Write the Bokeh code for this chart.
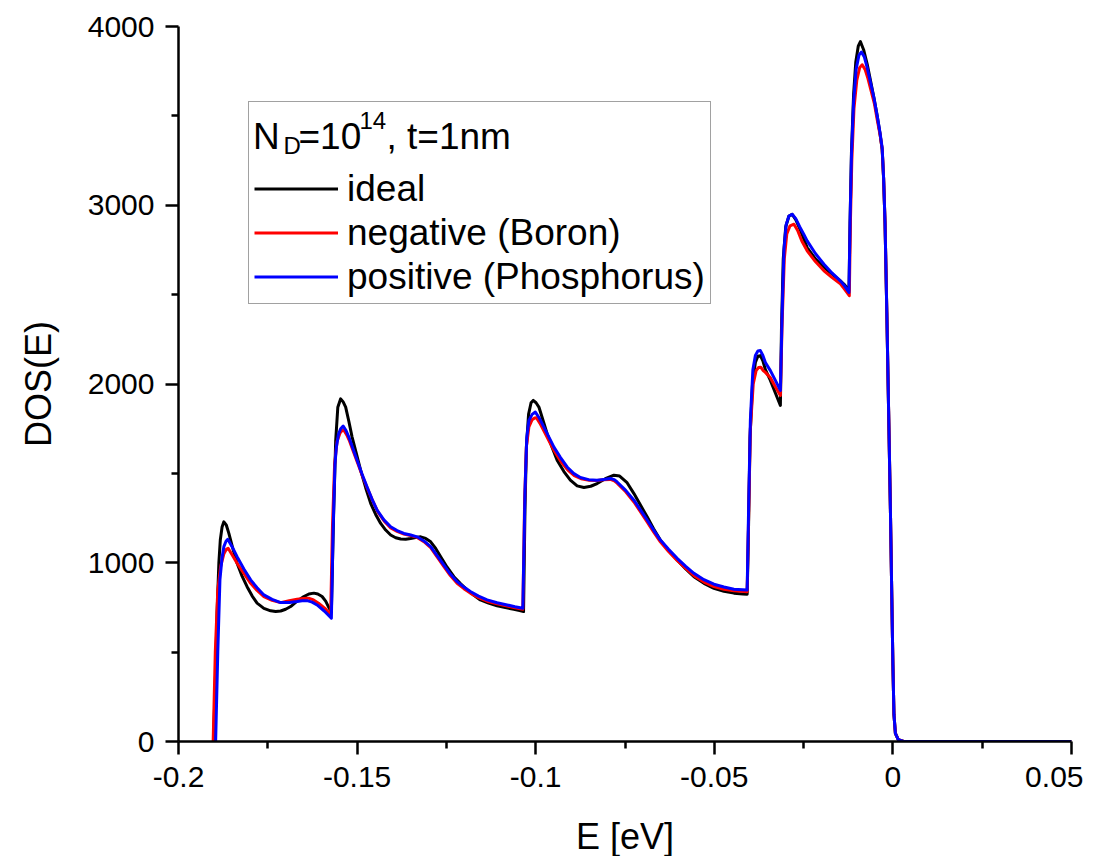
from bokeh.plotting import figure
from bokeh.models import Range1d, FixedTicker, Legend, LegendItem, Label
from bokeh.embed import file_html
from bokeh.resources import INLINE

# ---------------- data ----------------
x_ticks = [-0.2, -0.15, -0.1, -0.05, 0.0, 0.05]
x_tick_labels = ["-0.2", "-0.15", "-0.1", "-0.05", "0", "0.05"]
x_minor = [-0.175, -0.125, -0.075, -0.025, 0.025]
y_ticks = [0, 1000, 2000, 3000, 4000]
y_minor = [500, 1500, 2500, 3500]

series_names = ["ideal", "negative (Boron)", "positive (Phosphorus)"]

E_ideal = [
    -0.1902, -0.1896, -0.1892, -0.1887, -0.1883, -0.1878, -0.1873, -0.1866, -0.1859, -0.1848,
    -0.1836, -0.1822, -0.1808, -0.1794, -0.1780, -0.1761, -0.1742, -0.1728, -0.1714, -0.1700,
    -0.1686, -0.1668, -0.1649, -0.1635, -0.1621, -0.1610, -0.1598, -0.1588, -0.1578, -0.1572,
    -0.1566, -0.1560, -0.1554, -0.1546, -0.1539, -0.1532, -0.1523, -0.1514, -0.1502, -0.1490,
    -0.1476, -0.1462, -0.1448, -0.1434, -0.1420, -0.1406, -0.1392, -0.1378, -0.1364, -0.1350,
    -0.1336, -0.1322, -0.1308, -0.1294, -0.1280, -0.1266, -0.1248, -0.1229, -0.1210, -0.1192,
    -0.1173, -0.1155, -0.1132, -0.1108, -0.1085, -0.1061, -0.1045, -0.1034,
    -0.1030, -0.1026, -0.1020, -0.1013, -0.1007, -0.0999, -0.0991, -0.0980, -0.0968, -0.0954,
    -0.0940, -0.0921, -0.0903, -0.0884, -0.0865, -0.0846, -0.0828, -0.0805, -0.0781, -0.0765,
    -0.0745, -0.0725, -0.0706, -0.0688, -0.0670, -0.0651, -0.0628, -0.0604, -0.0580, -0.0557,
    -0.0529, -0.0501, -0.0473, -0.0445, -0.0420, -0.0408,
    -0.0405, -0.0400, -0.0393, -0.0385, -0.0378, -0.0371, -0.0364, -0.0357, -0.0343, -0.0329,
    -0.0315, -0.0312, -0.0307, -0.0300, -0.0291, -0.0282, -0.0272, -0.0261, -0.0250, -0.0240,
    -0.0217, -0.0193, -0.0170, -0.0147, -0.0135, -0.0123,
    -0.0120, -0.0116, -0.0110, -0.0104, -0.0097, -0.0091, -0.0082, -0.0072, -0.0062, -0.0053,
    -0.0044, -0.0036, -0.0030, -0.0026, -0.0022, -0.0017, -0.0012, -0.0007, -0.0003, 0.0000,
    0.0003, 0.0007, 0.0015, 0.0030, 0.0500,
]
DOS_ideal = [
    0, 400, 718, 1000, 1127, 1200, 1229, 1210, 1164, 1080,
    997, 925, 866, 815, 774, 745, 731, 727, 730, 740,
    755, 785, 811, 825, 830, 825, 811, 785, 745, 725,
    1250, 1680, 1870, 1917, 1900, 1871, 1790, 1703, 1610, 1517,
    1420, 1332, 1270, 1220, 1183, 1155, 1140, 1133, 1132, 1136,
    1141, 1145, 1136, 1117, 1080, 1034, 975, 922, 882, 848,
    818, 792, 775, 759, 749, 740, 732, 727,
    1300, 1650, 1830, 1895, 1908, 1895, 1871, 1800, 1722, 1645,
    1573, 1510, 1462, 1430, 1421, 1428, 1443, 1470, 1490, 1485,
    1450, 1387, 1320, 1257, 1190, 1127, 1068, 1015, 965, 922,
    885, 857, 840, 830, 825, 824,
    1100, 1700, 2000, 2120, 2155, 2159, 2130, 2080, 2020, 1950,
    1880, 2300, 2700, 2880, 2940, 2949, 2920, 2870, 2815, 2763,
    2700, 2652, 2615, 2577, 2555, 2522,
    2900, 3300, 3620, 3800, 3890, 3916, 3870, 3790, 3690, 3600,
    3500, 3400, 3310, 3150, 2900, 2400, 1850, 1300, 800, 430,
    150, 45, 10, 0, 0,
]

E_boron = [
    -0.1903, -0.1897, -0.1890, -0.1882, -0.1873, -0.1866, -0.1861, -0.1850, -0.1836, -0.1817,
    -0.1798, -0.1780, -0.1761, -0.1738, -0.1714, -0.1690, -0.1668, -0.1650, -0.1636, -0.1622,
    -0.1608, -0.1590, -0.1574, -0.1569, -0.1563, -0.1556, -0.1548, -0.1542, -0.1537, -0.1529,
    -0.1521, -0.1510, -0.1498, -0.1484, -0.1470, -0.1456, -0.1442, -0.1424, -0.1406, -0.1388,
    -0.1369, -0.1350, -0.1332, -0.1313, -0.1294, -0.1276, -0.1257, -0.1239, -0.1220, -0.1201,
    -0.1183, -0.1160, -0.1136, -0.1108, -0.1080, -0.1058, -0.1036,
    -0.1031, -0.1026, -0.1019, -0.1010, -0.1003, -0.0998, -0.0988, -0.0975, -0.0961, -0.0947,
    -0.0929, -0.0910, -0.0892, -0.0873, -0.0850, -0.0828, -0.0810, -0.0791, -0.0780, -0.0772,
    -0.0748, -0.0725, -0.0706, -0.0688, -0.0670, -0.0651, -0.0628, -0.0604, -0.0580, -0.0557,
    -0.0529, -0.0501, -0.0473, -0.0445, -0.0408,
    -0.0404, -0.0399, -0.0391, -0.0383, -0.0376, -0.0370, -0.0363, -0.0357, -0.0343, -0.0329,
    -0.0315, -0.0310, -0.0304, -0.0297, -0.0288, -0.0277, -0.0267, -0.0255, -0.0240, -0.0217,
    -0.0193, -0.0170, -0.0147, -0.0135, -0.0122,
    -0.0119, -0.0115, -0.0109, -0.0101, -0.0093, -0.0086, -0.0078, -0.0070, -0.0061, -0.0052,
    -0.0044, -0.0036, -0.0030, -0.0026, -0.0022, -0.0017, -0.0012, -0.0007, -0.0003, 0.0000,
    0.0003, 0.0007, 0.0015, 0.0030, 0.0500,
]
DOS_boron = [
    0, 500, 850, 980, 1050, 1075, 1081, 1045, 997, 940,
    885, 845, 811, 790, 777, 788, 796, 800, 802, 792,
    774, 745, 709, 1200, 1550, 1680, 1725, 1740, 1741, 1715,
    1680, 1620, 1555, 1480, 1410, 1345, 1285, 1232, 1195, 1175,
    1160, 1152, 1142, 1118, 1085, 1032, 978, 928, 885, 855,
    830, 805, 785, 770, 758, 748, 740,
    1350, 1650, 1760, 1800, 1810, 1811, 1780, 1730, 1675, 1622,
    1565, 1518, 1487, 1470, 1462, 1460, 1464, 1466, 1458, 1445,
    1397, 1340, 1283, 1228, 1172, 1117, 1063, 1013, 968, 928,
    892, 867, 852, 843, 838,
    1250, 1750, 2000, 2075, 2092, 2094, 2075, 2065, 2035, 1985,
    1936, 2350, 2700, 2840, 2885, 2894, 2860, 2800, 2745, 2685,
    2633, 2595, 2560, 2530, 2494,
    2900, 3250, 3540, 3700, 3770, 3786, 3760, 3710, 3640, 3570,
    3480, 3395, 3315, 3150, 2900, 2400, 1850, 1300, 800, 430,
    150, 45, 10, 0, 0,
]

E_phos = [
    -0.1896, -0.1890, -0.1884, -0.1878, -0.1873, -0.1867, -0.1862, -0.1850, -0.1836, -0.1817,
    -0.1798, -0.1780, -0.1761, -0.1738, -0.1714, -0.1690, -0.1668, -0.1654, -0.1640, -0.1626,
    -0.1612, -0.1592, -0.1572, -0.1567, -0.1562, -0.1558, -0.1552, -0.1546, -0.1539, -0.1531,
    -0.1523, -0.1512, -0.1500, -0.1486, -0.1472, -0.1458, -0.1444, -0.1425, -0.1406, -0.1388,
    -0.1369, -0.1350, -0.1332, -0.1313, -0.1294, -0.1276, -0.1257, -0.1239, -0.1220, -0.1201,
    -0.1183, -0.1160, -0.1136, -0.1108, -0.1080, -0.1058, -0.1036,
    -0.1030, -0.1025, -0.1019, -0.1010, -0.1001, -0.0990, -0.0977, -0.0963, -0.0949, -0.0931,
    -0.0912, -0.0894, -0.0875, -0.0852, -0.0828, -0.0810, -0.0791, -0.0780, -0.0772, -0.0748,
    -0.0725, -0.0706, -0.0688, -0.0670, -0.0651, -0.0628, -0.0604, -0.0580, -0.0557, -0.0529,
    -0.0501, -0.0473, -0.0445, -0.0408,
    -0.0404, -0.0399, -0.0392, -0.0385, -0.0378, -0.0371, -0.0364, -0.0357, -0.0343, -0.0329,
    -0.0315, -0.0310, -0.0305, -0.0299, -0.0291, -0.0282, -0.0272, -0.0261, -0.0250, -0.0240,
    -0.0217, -0.0193, -0.0170, -0.0147, -0.0135, -0.0123,
    -0.0120, -0.0116, -0.0110, -0.0103, -0.0095, -0.0088, -0.0080, -0.0072, -0.0062, -0.0053,
    -0.0044, -0.0036, -0.0030, -0.0026, -0.0022, -0.0017, -0.0012, -0.0007, -0.0003, 0.0000,
    0.0003, 0.0007, 0.0015, 0.0030, 0.0500,
]
DOS_phos = [
    0, 500, 904, 1030, 1090, 1120, 1131, 1090, 1034, 965,
    904, 860, 820, 795, 777, 778, 783, 787, 788, 780,
    764, 730, 690, 1200, 1550, 1647, 1720, 1750, 1765, 1740,
    1703, 1640, 1573, 1495, 1424, 1355, 1294, 1240, 1201, 1180,
    1164, 1155, 1145, 1122, 1090, 1040, 987, 937, 894, 864,
    839, 813, 792, 776, 764, 754, 746,
    1400, 1700, 1796, 1830, 1843, 1810, 1759, 1703, 1647, 1590,
    1536, 1500, 1477, 1465, 1462, 1466, 1471, 1465, 1452, 1405,
    1350, 1293, 1239, 1183, 1127, 1075, 1025, 980, 941, 905,
    880, 864, 852, 848,
    1300, 1800, 2080, 2160, 2185, 2187, 2160, 2120, 2075, 2020,
    1964, 2400, 2750, 2890, 2940, 2950, 2925, 2880, 2840, 2801,
    2730, 2670, 2620, 2577, 2548, 2512,
    2900, 3280, 3580, 3760, 3840, 3857, 3830, 3770, 3680, 3600,
    3500, 3405, 3320, 3150, 2900, 2400, 1850, 1300, 800, 430,
    150, 45, 10, 0, 0,
]

assert len(E_ideal) == len(DOS_ideal)
assert len(E_boron) == len(DOS_boron)
assert len(E_phos) == len(DOS_phos)

FONT = "Liberation Sans"

p = figure(
    frame_width=893, frame_height=715,
    min_border_left=178, min_border_right=12, min_border_top=26, min_border_bottom=100,
    x_range=Range1d(-0.2, 0.05), y_range=Range1d(0, 4000),
    output_backend="svg", toolbar_location=None,
    background_fill_color="white", border_fill_color="white",
)
p.outline_line_color = None
p.xgrid.visible = False
p.ygrid.visible = False

r_ideal = p.line(E_ideal, DOS_ideal, line_color="black", line_width=3, line_join="round")
r_boron = p.line(E_boron, DOS_boron, line_color="#ff0000", line_width=3, line_join="round")
r_phos = p.line(E_phos, DOS_phos, line_color="#0000ff", line_width=3, line_join="round")

p.xaxis.ticker = FixedTicker(ticks=x_ticks, minor_ticks=x_minor)
p.xaxis.major_label_overrides = {t: s for t, s in zip(x_ticks, x_tick_labels)}
p.yaxis.ticker = FixedTicker(ticks=y_ticks, minor_ticks=y_minor)
p.xaxis.axis_label = "E [eV]"
p.yaxis.axis_label = "DOS(E)"

for ax in (p.xaxis[0], p.yaxis[0]):
    ax.axis_line_width = 2.5
    ax.axis_line_color = "black"
    ax.major_tick_line_width = 2.5
    ax.minor_tick_line_width = 2.5
    ax.major_tick_line_color = "black"
    ax.minor_tick_line_color = "black"
    ax.major_tick_in = 0
    ax.minor_tick_in = 0
    ax.major_tick_out = 13
    ax.minor_tick_out = 7
    ax.major_label_text_font = FONT
    ax.major_label_text_font_size = "30px"
    ax.major_label_text_color = "black"
    ax.axis_label_text_font = FONT
    ax.axis_label_text_font_size = "36px"
    ax.axis_label_text_font_style = "normal"
    ax.axis_label_text_color = "black"

p.xaxis.major_label_standoff = 12
p.xaxis.axis_label_standoff = 26
p.yaxis.major_label_standoff = 11
p.yaxis.axis_label_standoff = 26

legend = Legend(
    items=[
        LegendItem(label=series_names[0], renderers=[r_ideal]),
        LegendItem(label=series_names[1], renderers=[r_boron]),
        LegendItem(label=series_names[2], renderers=[r_phos]),
    ],
    location=(70, 437),
    title=" ",
    title_text_font=FONT,
    title_text_font_size="34px",
    title_standoff=21,
    label_text_font=FONT,
    label_text_font_size="37px",
    label_text_color="black",
    glyph_width=84,
    glyph_height=43,
    label_height=43,
    label_standoff=9,
    spacing=1,
    padding=5,
    margin=0,
    border_line_color="#444444",
    border_line_width=1.5,
    background_fill_alpha=0.0,
)
p.add_layout(legend)

# legend title with subscript / superscript
title_parts = [
    ("N", -0.17914, 3386, "37px"),
    ("D", -0.17060, 3334, "24px"),
    ("=10", -0.16641, 3386, "37px"),
    ("14", -0.14933, 3474, "24px"),
    (", t=1nm", -0.14177, 3386, "37px"),
]
for txt, tx, ty, fs in title_parts:
    lbl = Label(x=tx, y=ty, text=txt, text_font=FONT, text_font_size=fs,
                text_color="black", text_baseline="alphabetic", text_align="left")
    p.add_layout(lbl)

open("out.html", "w").write(file_html(p, INLINE))
